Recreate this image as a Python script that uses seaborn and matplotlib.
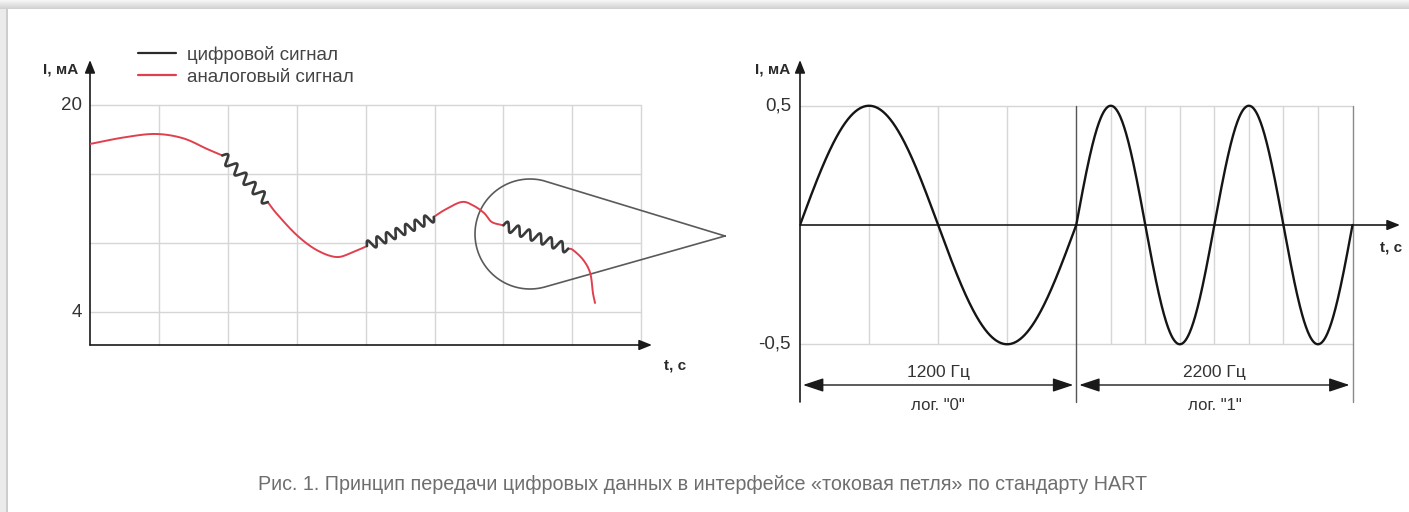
import numpy as np
import pandas as pd
import seaborn as sns
import matplotlib.pyplot as plt
from matplotlib.lines import Line2D
from matplotlib.patches import Rectangle
from matplotlib import font_manager

# ---------------- data ----------------
# Left panel: analog loop current (x in grid cells, y in mA)
analog_t = [0.00, 0.50, 0.95, 1.35, 1.70, 1.92,
            2.58, 2.71, 3.00, 3.29, 3.58, 3.82, 4.02,
            4.99, 5.15, 5.39, 5.55, 5.72, 5.83, 6.00,
            6.94, 7.01, 7.16, 7.26, 7.30, 7.33]
analog_ma = [16.99, 17.50, 17.76, 17.43, 16.60, 16.10,
             12.50, 11.60, 9.95, 8.79, 8.25, 8.64, 9.10,
             11.35, 11.90, 12.50, 12.27, 11.65, 10.96, 10.70,
             8.90, 8.79, 8.02, 7.00, 5.47, 4.70]

# Digital (HART) bursts riding on the analog signal
burst_start = [1.92, 4.02, 6.00]
burst_end = [2.58, 4.99, 6.94]
burst_cycles = [5, 7, 6]

left_yticks = [4, 20]
left_yticklabels = ["4", "20"]
legend_labels = ["цифровой сигнал", "аналоговый сигнал"]

# Right panel: FSK coding of bits
bit_labels = ['лог. "0"', 'лог. "1"']
bit_freq_hz = [1200, 2200]
bit_cycles = [1, 2]
amp_ma = 0.5
right_yticks = [-0.5, 0.5]
right_yticklabels = ["-0,5", "0,5"]

caption = ("Рис. 1. Принцип передачи цифровых данных в интерфейсе "
           "«токовая петля» по стандарту HART")

# ---------------- style ----------------
sns.set_theme(style="white")
names = {f.name for f in font_manager.fontManager.ttflist}
main_font = "Liberation Sans" if "Liberation Sans" in names else "DejaVu Sans"
plt.rcParams["font.family"] = [main_font, "DejaVu Sans"]

W, H, DPI = 1409, 512, 100
fig = plt.figure(figsize=(W / DPI, H / DPI), dpi=DPI)
fig.patch.set_facecolor("white")

RED = "#e0404e"
DARK = "#2a2a2a"
WIG = "#3a3a3a"
GRID = "#d6d6d6"
TXT = "#333333"


def rect_px(x0, y0, x1, y1):
    return [x0 / W, 1 - y1 / H, (x1 - x0) / W, (y1 - y0) / H]


def catmull(xs, ys, n=24):
    p = np.column_stack([xs, ys]).astype(float)
    p = np.vstack([2 * p[0] - p[1], p, 2 * p[-1] - p[-2]])
    out = []
    for i in range(1, len(p) - 2):
        p0, p1, p2, p3 = p[i - 1], p[i], p[i + 1], p[i + 2]
        t = np.linspace(0, 1, n, endpoint=False)[:, None]
        seg = 0.5 * ((2 * p1) + (-p0 + p2) * t + (2 * p0 - 5 * p1 + 4 * p2 - p3) * t ** 2
                     + (-p0 + 3 * p1 - 3 * p2 + p3) * t ** 3)
        out.append(seg)
    out.append(p[-2][None, :])
    return np.vstack(out)


# ---------------- left panel ----------------
SX, SY = 68.9, 12.94          # px per grid cell / px per mA
axL = fig.add_axes(rect_px(90, 55, 660, 350))
axL.set_xlim(0, 570 / SX)
axL.set_ylim(20 - (350 - 105) / SY, 20 + (105 - 55) / SY)
axL.axis("off")

# grid
grid_y = np.linspace(4, 20, 4)
for gy in grid_y:
    axL.plot([0, 8], [gy, gy], color=GRID, lw=1.0, zorder=1)
bottom_mA = 20 - (345 - 105) / SY
for gx in range(1, 9):
    axL.plot([gx, gx], [bottom_mA, 20], color=GRID, lw=1.0, zorder=1)

# axes with arrows
arrow_kw = dict(arrowstyle="-|>,head_length=0.55,head_width=0.22", color="#1a1a1a",
                lw=1.2, shrinkA=0, shrinkB=0, mutation_scale=14)
axL.annotate("", xy=(0, 20 + (105 - 60) / SY), xytext=(0, bottom_mA),
             arrowprops=arrow_kw, annotation_clip=False)
axL.annotate("", xy=((652 - 90) / SX, bottom_mA), xytext=(0, bottom_mA),
             arrowprops=arrow_kw, annotation_clip=False)

for v, lab in zip(left_yticks, left_yticklabels):
    axL.text(-8 / SX, v, lab, ha="right", va="center", fontsize=13.5, color=TXT)
axL.text(-12 / SX, 20 + (105 - 70) / SY, "I, мА", ha="right", va="center",
         fontsize=11, fontweight="bold", color=DARK)
axL.text((686 - 90) / SX, 20 - (366 - 105) / SY, "t, c", ha="right", va="center",
         fontsize=11, fontweight="bold", color=DARK)

# analog pieces between bursts
t_arr = np.array(analog_t)
m_arr = np.array(analog_ma)
edges = [t_arr[0]] + [v for pair in zip(burst_start, burst_end) for v in pair] + [t_arr[-1]]
for a, b in zip(edges[0::2], edges[1::2]):
    sel = (t_arr >= a - 1e-9) & (t_arr <= b + 1e-9)
    pts = catmull(t_arr[sel] * SX, m_arr[sel] * SY)
    df = pd.DataFrame({"t": pts[:, 0] / SX, "mA": pts[:, 1] / SY})
    sns.lineplot(data=df, x="t", y="mA", sort=False, estimator=None, ax=axL,
                 color=RED, lw=1.4, zorder=4)

# digital bursts: sine riding perpendicular to the local trend
amp_px = 4.8
for a, b, cyc in zip(burst_start, burst_end, burst_cycles):
    ya = np.interp(a, t_arr, m_arr)
    yb = np.interp(b, t_arr, m_arr)
    p0 = np.array([a * SX, ya * SY])
    p1 = np.array([b * SX, yb * SY])
    d = p1 - p0
    nrm = np.array([-d[1], d[0]]) / np.hypot(*d)
    s = np.linspace(0, 1, 500)[:, None]
    pts = p0 + s * d + amp_px * np.sin(2 * np.pi * cyc * s) * nrm
    df = pd.DataFrame({"t": pts[:, 0] / SX, "mA": pts[:, 1] / SY})
    sns.lineplot(data=df, x="t", y="mA", sort=False, estimator=None, ax=axL,
                 color=WIG, lw=1.9, zorder=5)

# magnifier outline (circle + cone to apex)
cen = np.array([530.0, -234.0])
r = 55.0
apex = np.array([725.0, -236.0])
v = apex - cen
dist = np.hypot(*v)
base = np.arctan2(v[1], v[0])
phi = np.arccos(r / dist)
ang = np.linspace(base + phi, base + 2 * np.pi - phi, 200)
arc = np.column_stack([cen[0] + r * np.cos(ang), cen[1] + r * np.sin(ang)])
outline = np.vstack([apex, arc, apex])
ox = (outline[:, 0] - 90) / SX
oy = 20 + (outline[:, 1] + 105) / SY
axL.plot(ox, oy, color="#5a5a5a", lw=1.2, zorder=3, clip_on=False)

# legend
handles = [Line2D([], [], color=DARK, lw=1.6), Line2D([], [], color=RED, lw=1.6)]
leg = axL.legend(handles, legend_labels, loc="upper left", frameon=False,
                 bbox_to_anchor=(138 / W, 1 - 46 / H), bbox_transform=fig.transFigure,
                 fontsize=13.5, handlelength=2.0, handletextpad=0.6,
                 labelspacing=0.25, borderpad=0, borderaxespad=0)
for t in leg.get_texts():
    t.set_color("#444444")

# ---------------- right panel ----------------
UX, UY = 276.25, 238.5        # px per bit period / px per mA
axR = fig.add_axes(rect_px(800, 55, 1405, 415))
axR.set_xlim(0, 605 / UX)
axR.set_ylim(-(415 - 225) / UY, (225 - 55) / UY)
axR.axis("off")

n_bits = len(bit_cycles)
low_y = -(402 - 225) / UY
for i, cyc in enumerate(bit_cycles):
    for k in range(1, 4 * cyc):
        gx = i + k / (4 * cyc)
        axR.plot([gx, gx], [-amp_ma, amp_ma], color=GRID, lw=1.0, zorder=1)
axR.plot([0, n_bits], [amp_ma, amp_ma], color=GRID, lw=1.0, zorder=1)
axR.plot([0, n_bits], [-amp_ma, -amp_ma], color=GRID, lw=1.0, zorder=1)
axR.plot([1, 1], [low_y, amp_ma], color="#555555", lw=1.0, zorder=2)
axR.plot([n_bits, n_bits], [low_y, amp_ma], color="#8a8a8a", lw=1.0, zorder=2)

axR.annotate("", xy=(0, (225 - 60) / UY), xytext=(0, low_y),
             arrowprops=arrow_kw, annotation_clip=False)
axR.annotate("", xy=((1400 - 800) / UX, 0), xytext=(0, 0),
             arrowprops=arrow_kw, annotation_clip=False)

for v_, lab in zip(right_yticks, right_yticklabels):
    axR.text(-9 / UX, v_, lab, ha="right", va="center", fontsize=13.5, color=TXT)
axR.text(-10 / UX, (225 - 70) / UY, "I, мА", ha="right", va="center",
         fontsize=11, fontweight="bold", color=DARK)
axR.text((1402 - 800) / UX, -(248 - 225) / UY, "t, c", ha="right", va="center",
         fontsize=11, fontweight="bold", color=DARK)

rows = []
for i, cyc in enumerate(bit_cycles):
    s = np.linspace(0, 1, 600)
    rows.append(pd.DataFrame({"t": i + s,
                              "mA": amp_ma * np.sin(2 * np.pi * cyc * s),
                              "bit": i}))
wave = pd.concat(rows, ignore_index=True)
sns.lineplot(data=wave, x="t", y="mA", units="bit", estimator=None, sort=False,
             ax=axR, color="#151515", lw=1.7, zorder=5, legend=False)

dim_y = -(385 - 225) / UY
dim_kw = dict(arrowstyle="<|-|>,head_length=0.9,head_width=0.3", color="#1a1a1a",
              lw=1.0, shrinkA=0, shrinkB=0, mutation_scale=14)
gap = 3 / UX
for i, (f, lab) in enumerate(zip(bit_freq_hz, bit_labels)):
    axR.annotate("", xy=(i + 1 - gap, dim_y), xytext=(i + gap, dim_y),
                 arrowprops=dim_kw, annotation_clip=False)
    axR.text(i + 0.5, -(372 - 225) / UY, f"{f} Гц", ha="center", va="center",
             fontsize=12.5, color=TXT)
    axR.text(i + 0.5, -(405 - 225) / UY, lab, ha="center", va="center",
             fontsize=12, color=TXT)

# ---------------- caption ----------------
fig.text(703 / W, 1 - 485 / H, caption, ha="center", va="center",
         fontsize=14.2, color="#6e6e6e")

# card shadow along top and left edges
for row in range(9):
    g = 0.96 - 0.14 * (row / 8)
    fig.add_artist(Rectangle((0, 1 - (row + 1) / H), 1, 1 / H,
                             transform=fig.transFigure, color=(g, g, g), lw=0))
fig.add_artist(Rectangle((0, 0), 6 / W, 1 - 9 / H, transform=fig.transFigure,
                         color="#ebebeb", lw=0))
fig.add_artist(Rectangle((6 / W, 0), 1.5 / W, 1 - 9 / H, transform=fig.transFigure,
                         color="#cdcdcd", lw=0))

fig.savefig("out.png", dpi=DPI)
